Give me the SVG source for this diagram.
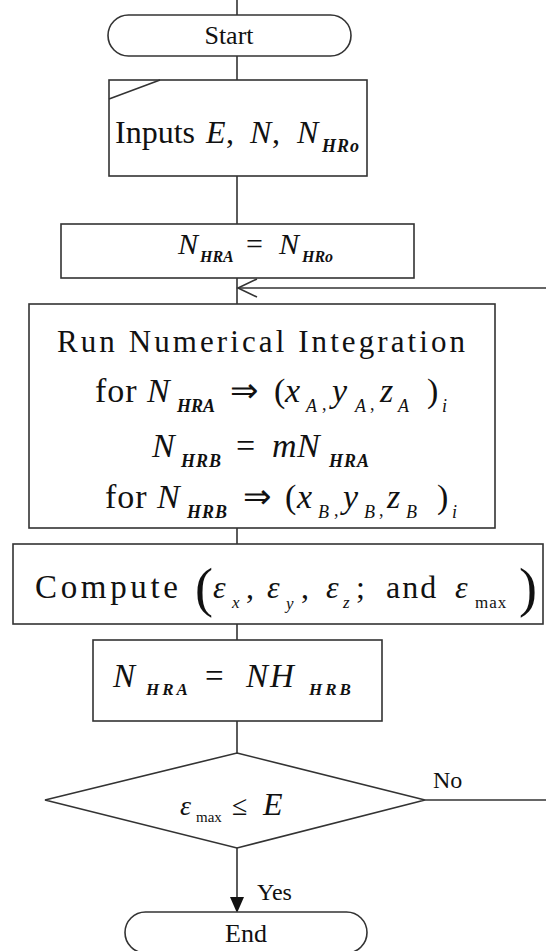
<svg xmlns="http://www.w3.org/2000/svg" width="546" height="951" viewBox="0 0 546 951">
<style>
.box{fill:#fff;stroke:#333;stroke-width:1.6}
.ln{fill:none;stroke:#333;stroke-width:1.6}
text{font-family:"Liberation Serif","Times New Roman",serif;fill:#111}
.it{font-style:italic}
.sb{font-style:italic;font-weight:bold}
</style>
<g id="connectors">
<line class="ln" x1="237" y1="0" x2="237" y2="15"/>
<line class="ln" x1="237" y1="56" x2="237" y2="80"/>
<line class="ln" x1="237" y1="176" x2="237" y2="224"/>
<line class="ln" x1="237" y1="278" x2="237" y2="304"/>
<line class="ln" x1="546" y1="288" x2="238" y2="288"/>
<polyline class="ln" points="257,279 238,288 257,297"/>
<line class="ln" x1="237" y1="528" x2="237" y2="544"/>
<line class="ln" x1="237" y1="624" x2="237" y2="640"/>
<line class="ln" x1="237" y1="721" x2="237" y2="753"/>
<line class="ln" x1="425" y1="800" x2="546" y2="800"/>
<line class="ln" x1="237" y1="848" x2="237" y2="899"/>
<polygon points="230,897 244,897 237,913" fill="#111"/>
<text x="433" y="788" font-size="24">No</text>
<text x="257" y="900" font-size="24">Yes</text>
</g>
<g id="start">
<rect class="box" x="108" y="15" width="243" height="41" rx="20.5"/>
<text x="229" y="44" font-size="26" text-anchor="middle">Start</text>
</g>
<g id="inputs">
<rect class="box" x="109" y="80" width="258" height="96"/>
<line class="ln" x1="109" y1="99" x2="160" y2="80"/>
<text font-size="32"><tspan x="115" y="143">Inputs</tspan><tspan class="it" x="206" y="143">E</tspan><tspan x="226" y="143">,</tspan><tspan class="it" x="250" y="143">N</tspan><tspan x="272" y="143">,</tspan><tspan class="it" x="297" y="143">N</tspan><tspan class="sb" font-size="18" x="322" y="152" letter-spacing="1">HRo</tspan></text>
</g>
<g id="init">
<rect class="box" x="61" y="224" width="353" height="54"/>
<text font-size="30"><tspan class="it" x="178" y="254">N</tspan><tspan class="sb" font-size="16" x="200" y="262">HRA</tspan><tspan x="246" y="254">=</tspan><tspan class="it" x="279" y="254">N</tspan><tspan class="sb" font-size="16" x="302" y="262">HRo</tspan></text>
</g>
<g id="run">
<rect class="box" x="29" y="304" width="466" height="224"/>
<text x="57" y="352" font-size="31" textLength="408" lengthAdjust="spacing">Run Numerical Integration</text>
<text font-size="34"><tspan x="95" y="402" letter-spacing="1">for</tspan><tspan class="it" x="147" y="402">N</tspan><tspan class="sb" font-size="18" x="177" y="412">HRA</tspan><tspan x="230" y="402">⇒</tspan><tspan x="274" y="402">(</tspan><tspan class="it" x="285" y="402">x</tspan><tspan class="it" font-size="18" x="306" y="412">A</tspan><tspan font-size="18" x="322" y="410">,</tspan><tspan class="it" x="332" y="402">y</tspan><tspan class="it" font-size="18" x="355" y="412">A</tspan><tspan font-size="18" x="370" y="410">,</tspan><tspan class="it" x="380" y="402">z</tspan><tspan class="it" font-size="18" x="398" y="412">A</tspan><tspan x="427" y="402">)</tspan><tspan class="it" font-size="18" x="442" y="412">i</tspan></text>
<text font-size="34"><tspan class="it" x="152" y="457">N</tspan><tspan class="sb" font-size="18" x="181" y="467" letter-spacing="1">HRB</tspan><tspan x="236" y="457">=</tspan><tspan class="it" x="272" y="457">m</tspan><tspan class="it" x="297" y="457">N</tspan><tspan class="sb" font-size="18" x="329" y="467" letter-spacing="1">HRA</tspan></text>
<text font-size="34"><tspan x="105" y="508" letter-spacing="1">for</tspan><tspan class="it" x="157" y="508">N</tspan><tspan class="sb" font-size="18" x="187" y="518" letter-spacing="1">HRB</tspan><tspan x="243" y="508">⇒</tspan><tspan x="285" y="508">(</tspan><tspan class="it" x="297" y="508">x</tspan><tspan class="it" font-size="18" x="318" y="518">B</tspan><tspan font-size="18" x="334" y="516">,</tspan><tspan class="it" x="343" y="508">y</tspan><tspan class="it" font-size="18" x="364" y="518">B</tspan><tspan font-size="18" x="379" y="516">,</tspan><tspan class="it" x="387" y="508">z</tspan><tspan class="it" font-size="18" x="406" y="518">B</tspan><tspan x="437" y="508">)</tspan><tspan class="it" font-size="18" x="452" y="518">i</tspan></text>
</g>
<g id="compute">
<rect class="box" x="13" y="544" width="530" height="80"/>
<text x="35" y="598" font-size="33" textLength="143" lengthAdjust="spacing">Compute</text>
<text font-size="32"><tspan font-size="54" x="195" y="606">(</tspan><tspan class="it" x="213" y="598">ε</tspan><tspan class="it" font-size="17" x="232" y="608">x</tspan><tspan x="246" y="598">,</tspan><tspan class="it" x="267" y="598">ε</tspan><tspan class="it" font-size="17" x="286" y="609">y</tspan><tspan x="301" y="598">,</tspan><tspan class="it" x="326" y="598">ε</tspan><tspan class="it" font-size="17" x="343" y="608">z</tspan><tspan x="356" y="598">;</tspan><tspan x="386" y="598" letter-spacing="2">and</tspan><tspan class="it" x="455" y="598">ε</tspan><tspan font-size="17" x="475" y="608" letter-spacing="1">max</tspan><tspan font-size="54" x="519" y="606">)</tspan></text>
</g>
<g id="update">
<rect class="box" x="93" y="640" width="289" height="81"/>
<text font-size="33"><tspan class="it" x="113" y="687">N</tspan><tspan class="sb" font-size="17" x="146" y="695" letter-spacing="3">HRA</tspan><tspan x="205" y="687">=</tspan><tspan class="it" x="246" y="687" letter-spacing="2">NH</tspan><tspan class="sb" font-size="17" x="309" y="695" letter-spacing="3">HRB</tspan></text>
</g>
<g id="decision">
<polygon class="box" points="237,753 425,800 237,848 45,800"/>
<text font-size="28"><tspan class="it" x="180" y="815">ε</tspan><tspan font-size="15" x="196" y="822">max</tspan><tspan x="232" y="815">≤</tspan><tspan class="it" font-size="32" x="263" y="815">E</tspan></text>
</g>
<g id="end">
<rect class="box" x="125" y="912" width="242" height="41" rx="20.5"/>
<text x="246" y="942" font-size="26" text-anchor="middle">End</text>
</g>
</svg>
